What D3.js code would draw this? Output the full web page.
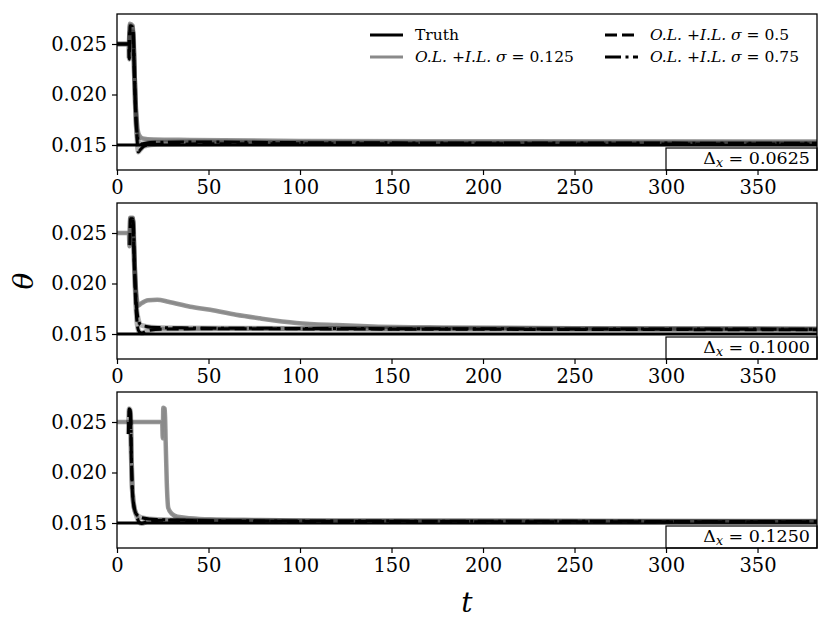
<!DOCTYPE html>
<html>
<head>
<meta charset="utf-8">
<script src="https://cdn.jsdelivr.net/npm/d3@7"></script>
<style>
body { margin: 0; background: #fff; }
svg { display: block; background: #fff; }
text { font-family: 'DejaVu Serif', serif; fill: #000; }
</style>
</head>
<body>
<svg id="chart" width="831" height="629"></svg>
<script>
var tTicks = [0, 50, 100, 150, 200, 250, 300, 350];
var thetaTicks = [0.015, 0.020, 0.025];
var tRange = [0, 382.5];
var thetaRange = [0.012525, 0.02797];
var truthTheta = 0.015;
var dxLabels = ['0.0625', '0.1000', '0.1250'];
var sigmaLabels = ['0.125', '0.5', '0.75'];

// panel 1, dx = 0.0625
var p1Sigma125 = [[6.6,0.0236],[7.0,0.0270],[8.6,0.0268],[9.2,0.0245],[10,0.0200],[11,0.0170],[12,0.0160],[14,0.01565],[20,0.01555],[40,0.0155],[100,0.0154],[200,0.01537],[382.5,0.01535]];
var p1Sigma50 = [[0,0.025],[6.4,0.025],[6.7,0.0235],[7.2,0.0268],[8.4,0.0267],[9.2,0.0238],[10.1,0.0185],[10.9,0.0158],[11.6,0.0143],[12.6,0.0145],[15,0.0149],[22,0.01508],[60,0.01512],[382.5,0.0151]];
var p1Sigma75 = [[0,0.025],[6.5,0.025],[7.0,0.0262],[8.8,0.0262],[9.6,0.0215],[10.6,0.0168],[11.6,0.0154],[13,0.0151],[18,0.01525],[40,0.0153],[120,0.01522],[382.5,0.01518]];

// panel 2, dx = 0.1
var p2Sigma125 = [[0,0.025],[6.5,0.025],[6.8,0.0237],[7.2,0.0265],[8.6,0.0265],[9.2,0.0242],[10,0.0205],[10.8,0.0185],[11.5,0.0178],[13,0.0180],[17,0.01835],[22,0.01838],[28,0.0182],[40,0.0177],[51,0.0174],[65,0.0169],[78,0.01655],[98,0.0161],[120,0.01588],[140,0.01575],[180,0.01565],[250,0.01558],[382.5,0.01552]];
var p2Sigma50 = [[7.0,0.0238],[7.4,0.0264],[8.5,0.0264],[9.3,0.0228],[10.2,0.0182],[11,0.0160],[12,0.01525],[13.5,0.0151],[17,0.01535],[25,0.01548],[60,0.01552],[150,0.01548],[382.5,0.01542]];
var p2Sigma75 = [[7.1,0.0262],[8.8,0.0262],[9.6,0.0215],[10.5,0.0180],[11.6,0.0165],[13,0.0159],[16,0.01575],[22,0.01565],[40,0.0156],[100,0.01555],[382.5,0.01548]];

// panel 3, dx = 0.125
var p3Sigma125 = [[0,0.025],[24.7,0.025],[25.0,0.0234],[25.3,0.0264],[26.1,0.0263],[26.6,0.0230],[27.2,0.0190],[28,0.0165],[30,0.0159],[33,0.01562],[40,0.01548],[51,0.01537],[75,0.0153],[100,0.01526],[140,0.01522],[382.5,0.0152]];
var p3Sigma50 = [[6.2,0.0238],[6.6,0.0263],[7.2,0.0262],[7.7,0.0225],[8.3,0.0185],[9.2,0.0168],[10.5,0.0158],[12,0.0151],[13.5,0.01495],[17,0.0152],[25,0.01528],[50,0.0152],[120,0.01515],[382.5,0.01512]];
var p3Sigma75 = [[6.5,0.0262],[7.4,0.0259],[8.0,0.0205],[8.9,0.0170],[10.5,0.0159],[13,0.01555],[18,0.0154],[30,0.0153],[60,0.01522],[382.5,0.01515]];

var panels = [
    {dx: dxLabels[0], series: [p1Sigma125, p1Sigma50, p1Sigma75]},
    {dx: dxLabels[1], series: [p2Sigma125, p2Sigma50, p2Sigma75]},
    {dx: dxLabels[2], series: [p3Sigma125, p3Sigma50, p3Sigma75]}
];

// gray solid, black dashed, black dash-dot; "under" mimics the spread of the runs
var styles = [
    {color: '#8a8a8a', under: '#6a6a6a', underOp: 0.7, underW: 4.5, dash: null},
    {color: '#000', under: '#000', underOp: 0.3, underW: 5, dash: '12,5'},
    {color: '#000', under: '#000', underOp: 0.3, underW: 5, dash: '16,4.5,3,4.5'}
];

var left = 117, right = 817, panelH = 156, panelGap = 189, top0 = 14;
var svg = d3.select('#chart');

var x = d3.scaleLinear().domain(tRange).range([left, right]);

var line = d3.line()
    .x(function(d) { return x(d[0]); })
    .curve(d3.curveMonotoneX);

panels.forEach(function(p, i) {
    var top = top0 + i * panelGap;
    var y = d3.scaleLinear().domain(thetaRange).range([top + panelH, top]);
    line.y(function(d) { return y(d[1]); });

    var g = svg.append('g').attr('class', 'panel');

    g.append('clipPath').attr('id', 'clip' + i)
        .append('rect')
        .attr('x', left).attr('y', top)
        .attr('width', right - left).attr('height', panelH);

    var plot = g.append('g').attr('clip-path', 'url(#clip' + i + ')');

    plot.append('path')
        .datum([[tRange[0], truthTheta], [tRange[1], truthTheta]])
        .attr('fill', 'none')
        .attr('stroke', '#000')
        .attr('stroke-width', 3)
        .attr('d', d3.line().x(function(d) { return x(d[0]); }).y(function(d) { return y(d[1]); }));

    p.series.forEach(function(s, k) {
        plot.append('path')
            .datum(s)
            .attr('fill', 'none')
            .attr('stroke', styles[k].under)
            .attr('stroke-opacity', styles[k].underOp)
            .attr('stroke-width', styles[k].underW)
            .attr('stroke-linejoin', 'round')
            .attr('d', line);
        plot.append('path')
            .datum(s)
            .attr('fill', 'none')
            .attr('stroke', styles[k].color)
            .attr('stroke-width', k === 0 ? 2.2 : 3)
            .attr('stroke-linejoin', 'round')
            .attr('stroke-dasharray', styles[k].dash)
            .attr('d', line);
    });

    var xAxis = g.append('g')
        .attr('transform', 'translate(0,' + (top + panelH) + ')')
        .call(d3.axisBottom(x).tickValues(tTicks).tickSize(5).tickPadding(5).tickFormat(d3.format('d')));
    var yAxis = g.append('g')
        .attr('transform', 'translate(' + left + ',0)')
        .call(d3.axisLeft(y).tickValues(thetaTicks).tickSize(5).tickPadding(5).tickFormat(d3.format('.3f')));
    [xAxis, yAxis].forEach(function(a) {
        a.select('.domain').remove();
        a.selectAll('line').attr('stroke', '#000').attr('stroke-width', 1.2);
        a.selectAll('text').attr('font-family', 'DejaVu Serif').attr('font-size', 19.5).attr('fill', '#000');
    });

    // delta x box, lower right
    g.append('rect')
        .attr('x', 666).attr('y', top + panelH - 22)
        .attr('width', right - 666).attr('height', 22)
        .attr('fill', '#fff').attr('stroke', '#000').attr('stroke-width', 1.2);
    var dt = g.append('text')
        .attr('x', 810).attr('y', top + panelH - 6)
        .attr('text-anchor', 'end')
        .attr('font-size', 17.5);
    dt.append('tspan').text('\u0394');
    dt.append('tspan').attr('font-size', 12.5).attr('dy', 3).attr('font-style', 'italic').text('x');
    dt.append('tspan').attr('dy', -3).text(' = ' + p.dx);

    g.append('rect')
        .attr('x', left).attr('y', top)
        .attr('width', right - left).attr('height', panelH)
        .attr('fill', 'none').attr('stroke', '#000').attr('stroke-width', 1.3);
});

// legend
var legendItems = [
    {label: null, style: {color: '#000', dash: null}, x: 370, y: 35},
    {label: sigmaLabels[0], style: styles[0], x: 370, y: 57},
    {label: sigmaLabels[1], style: styles[1], x: 605, y: 35},
    {label: sigmaLabels[2], style: styles[2], x: 605, y: 57}
];
var lg = svg.append('g').attr('class', 'legend');
legendItems.forEach(function(d) {
    lg.append('line')
        .attr('x1', d.x).attr('x2', d.x + 33)
        .attr('y1', d.y).attr('y2', d.y)
        .attr('stroke', d.style.color)
        .attr('stroke-width', 3)
        .attr('stroke-dasharray', d.style.dash);
    var t = lg.append('text')
        .attr('x', d.x + 45).attr('y', d.y + 5)
        .attr('font-size', 15.5);
    if (d.label === null) {
        t.text('Truth');
    } else {
        t.append('tspan').attr('font-style', 'italic').text('O.L.');
        t.append('tspan').text(' +');
        t.append('tspan').attr('font-style', 'italic').text('I.L.');
        t.append('tspan').attr('font-style', 'italic').text('  \u03c3');
        t.append('tspan').text(' = ' + d.label);
    }
});

svg.append('text')
    .attr('transform', 'translate(33,281) rotate(-90)')
    .attr('text-anchor', 'middle')
    .attr('font-size', 28)
    .attr('font-style', 'italic')
    .text('\u03b8');

svg.append('text')
    .attr('x', (left + right) / 2).attr('y', 612)
    .attr('text-anchor', 'middle')
    .attr('font-size', 28)
    .attr('font-style', 'italic')
    .text('t');
</script>
</body>
</html>
